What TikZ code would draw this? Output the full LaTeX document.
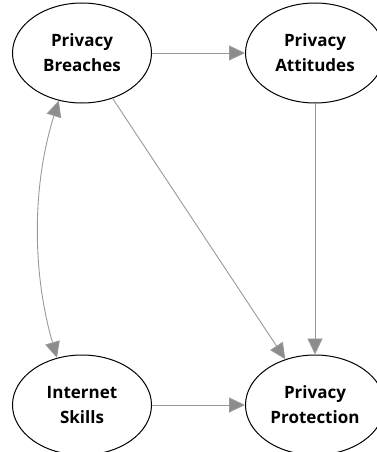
\documentclass[tikz,border=0pt]{standalone}
\usepackage{fontspec}
\setmainfont{Open Sans}
\usetikzlibrary{arrows.meta,shapes.geometric}
\definecolor{edgegray}{HTML}{999999}
\definecolor{tipgray}{HTML}{8C8C8C}
\tikzset{
  var/.style={draw=black, line width=1pt, ellipse, minimum width=139pt, minimum height=100pt, inner sep=0pt,
    align=center, font=\fontsize{17}{25}\selectfont\bfseries},
  link/.style={draw=edgegray, line width=0.9pt, -{Triangle[length=16pt,width=15pt,fill=tipgray]}},
  duallink/.style={draw=edgegray, line width=0.9pt, {Triangle[length=16pt,width=15pt,fill=tipgray]}-{Triangle[length=16pt,width=15pt,fill=tipgray]}}
}
\begin{document}
\begin{tikzpicture}[x=1pt,y=-1pt]
\useasboundingbox (0,0) rectangle (377,452);
\node[var] (b) at (82,53) {Privacy\\Breaches};
\node[var] (a) at (315,53) {Privacy\\Attitudes};
\node[var] (s) at (82,405) {Internet\\Skills};
\node[var] (p) at (315,405) {Privacy\\Protection};
\draw[link] (b) -- (a);
\draw[link] (a) -- (p);
\draw[link] (b.304) -- (p.123);
\draw[link] (s) -- (p);
\draw[duallink] (b.244) .. controls (32,185) and (32,272) .. (s.118);
\end{tikzpicture}
\end{document}
